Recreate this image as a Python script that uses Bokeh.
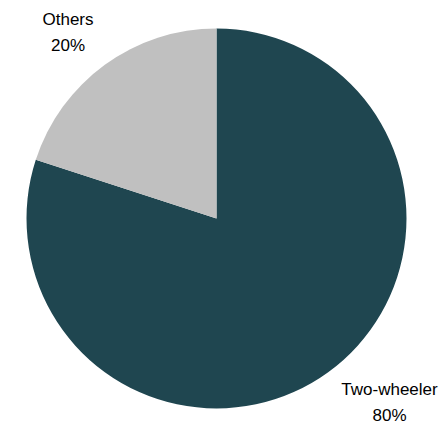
from math import pi
from bokeh.plotting import figure
from bokeh.models import ColumnDataSource, Range1d
from bokeh.core.properties import value
from bokeh.embed import file_html
from bokeh.resources import INLINE

categories = ["Two-wheeler", "Others"]
shares = [80, 20]
colors = ["#1F4650", "#C0C0C0"]
label_text = ["Two-wheeler\n80%", "Others\n20%"]

W, H = 441, 426
cx, cy, r = 216, 208, 190

# angles: start at top, go clockwise
total = sum(shares)
starts, ends = [], []
a = pi / 2
for s in shares:
    starts.append(a)
    a = a - 2 * pi * s / total
    ends.append(a)

src = ColumnDataSource(dict(cat=categories, share=shares, color=colors,
                            start=starts, end=ends))

p = figure(width=W, height=H, output_backend="svg", toolbar_location=None,
           x_range=Range1d(0, W), y_range=Range1d(0, H), min_border=0)
p.axis.visible = False
p.grid.visible = False
p.outline_line_color = None
p.background_fill_color = "white"

p.wedge(x=cx, y=cy, radius=r, start_angle="start", end_angle="end",
        direction="clock", fill_color="color", line_color=None, source=src)

label_x = [389, 67.5]
label_y = [24, 394]
lsrc = ColumnDataSource(dict(x=label_x, y=label_y, t=label_text))
p.text(x="x", y="y", text="t", source=lsrc, text_align="center",
       text_baseline="middle", text_font=value("Liberation Sans"),
       text_font_size="17px", text_color="#000000", text_line_height=1.4)

open("out.html", "w").write(file_html(p, INLINE))
